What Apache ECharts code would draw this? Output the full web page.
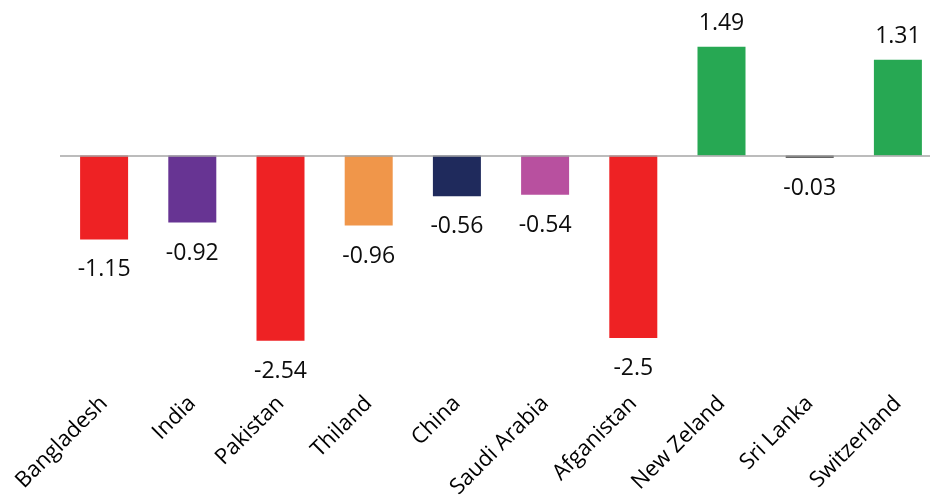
<!DOCTYPE html>
<html>
<head>
<meta charset="utf-8">
<script src="https://cdn.jsdelivr.net/npm/echarts@6/dist/echarts.min.js"></script>
<style>
  html, body { margin: 0; padding: 0; background: #fff; }
  #main { width: 930px; height: 502px; }
</style>
</head>
<body>
<div id="main"></div>
<script>
var countries = ['Bangladesh', 'India', 'Pakistan', 'Thiland', 'China', 'Saudi Arabia', 'Afganistan', 'New Zeland', 'Sri Lanka', 'Switzerland'];
var values = [-1.15, -0.92, -2.54, -0.96, -0.56, -0.54, -2.5, 1.49, -0.03, 1.31];
var barColors = ['#ee2224', '#673493', '#ee2224', '#f0964a', '#1f2a5c', '#b8509f', '#ee2224', '#27a853', '#333333', '#27a853'];

var font = '"Open Sans", "Noto Sans", sans-serif';
var chart = echarts.init(document.getElementById('main'));

// negative bars get their labels below
var data = values.map(function (v, i) {
  return {
    value: v,
    itemStyle: { color: barColors[i] },
    label: { position: v < 0 ? 'bottom' : 'top', distance: v < 0 ? 19 : 12 }
  };
});

chart.setOption({
  animation: false,
  grid: { left: 60, width: 882, top: 9.5, bottom: 113, containLabel: false, outerBoundsMode: 'none' },
  xAxis: {
    type: 'category',
    data: countries,
    axisLine: { show: false, onZero: false },
    axisTick: { show: false },
    axisLabel: {
      rotate: 45,
      margin: 11,
      fontSize: 22,
      color: '#000',
      fontFamily: font,
      interval: 0
    }
  },
  yAxis: {
    type: 'value',
    min: -3.2,
    max: 2,
    show: false
  },
  series: [{
    type: 'bar',
    data: data,
    barWidth: 48,
    label: {
      show: true,
      fontSize: 23,
      color: '#0d0d0d',
      fontFamily: font
    },
    markLine: {
      silent: true,
      symbol: 'none',
      label: { show: false },
      lineStyle: { color: '#a6a6a6', width: 1.5, type: 'solid' },
      data: [{ yAxis: 0 }]
    }
  }]
});
</script>
</body>
</html>
